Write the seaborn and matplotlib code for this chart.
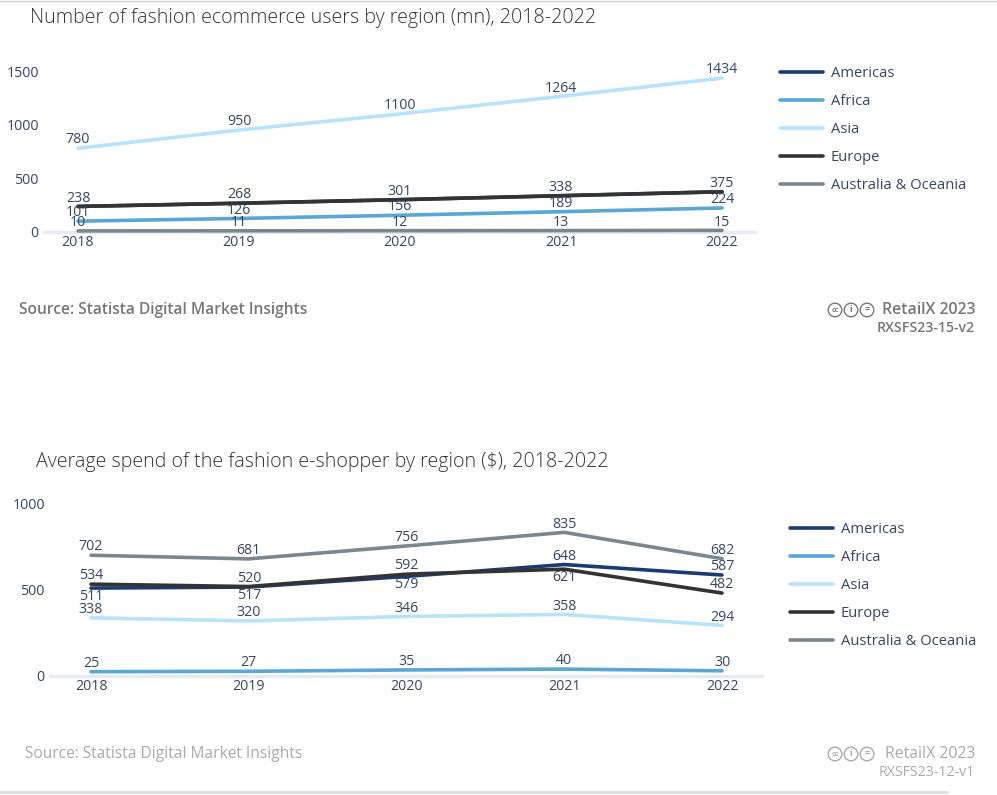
import pandas as pd
import numpy as np
import matplotlib
matplotlib.use("Agg")
import matplotlib.pyplot as plt
from matplotlib.patches import Circle
import seaborn as sns

years = [2018, 2019, 2020, 2021, 2022]
regions = ["Americas", "Africa", "Asia", "Europe", "Australia & Oceania"]

# users (mn)
users_americas = [238, 268, 301, 338, 375]
users_africa = [101, 126, 156, 189, 224]
users_asia = [780, 950, 1100, 1264, 1434]
users_europe = [238, 268, 301, 338, 375]
users_oceania = [10, 11, 12, 13, 15]

# average spend ($)
spend_americas = [511, 517, 579, 648, 587]
spend_africa = [25, 27, 35, 40, 30]
spend_asia = [338, 320, 346, 358, 294]
spend_europe = [534, 520, 592, 621, 482]
spend_oceania = [702, 681, 756, 835, 682]

palette = {"Americas": "#1d3b73", "Africa": "#5aa7d4", "Asia": "#b8e3fa",
           "Europe": "#333333", "Australia & Oceania": "#7b878e"}
TXT = "#36455f"

W, H = 997, 795


def long_df(series):
    rows = []
    for reg, vals in zip(regions, series):
        for y, v in zip(years, vals):
            rows.append({"year": y, "value": v, "region": reg})
    return pd.DataFrame(rows)


def rect(l, r, t, b):
    return [l / W, 1 - b / H, (r - l) / W, (b - t) / H]


sns.set_theme(style="white")
plt.rcParams["font.family"] = ["Open Sans", "DejaVu Sans"]

fig = plt.figure(figsize=(W / 100, H / 100), dpi=100)


def draw(ax, df, yticks, ylim, xmargin, below_pair, leg_xy, title, title_xy):
    sns.lineplot(data=df, x="year", y="value", hue="region", palette=palette,
                 hue_order=regions, lw=2.6, ax=ax, legend=True)
    ax.axhline(0, color="#e6ebf3", lw=2.5, zorder=0)
    ax.set_xlim(years[0] - xmargin, years[-1] + xmargin)
    ax.set_ylim(*ylim)
    ax.set_xticks(years)
    ax.set_yticks(yticks)
    ax.tick_params(axis="both", length=0, labelsize=10.2, colors=TXT)
    ax.tick_params(axis="y", pad=3)
    ax.tick_params(axis="x", pad=0)
    ax.set_xlabel("")
    ax.set_ylabel("")
    for s in ax.spines.values():
        s.set_visible(False)
    # data labels (a value shared by two lines is written once)
    wide = df.pivot(index="year", columns="region", values="value")
    for reg in regions:
        for y in years:
            v = wide.loc[y, reg]
            a, b = wide.loc[y, "Americas"], wide.loc[y, "Europe"]
            if reg == "Americas" and a == b:
                continue
            off = 6
            if below_pair and reg in ("Americas", "Europe") and abs(a - b) < 50 and v == min(a, b):
                off = -6
            ax.annotate(str(v), (y, v), xytext=(0, off), textcoords="offset points",
                        ha="center", va="center", fontsize=10.2, color=TXT)
    h, l = ax.get_legend_handles_labels()
    ax.legend(h, l, loc="upper left", bbox_to_anchor=(leg_xy[0] / W, 1 - leg_xy[1] / H),
              bbox_transform=fig.transFigure, frameon=False, fontsize=10.6,
              labelcolor=TXT, handlelength=2.95, handletextpad=0.5,
              labelspacing=0.89, borderpad=0, borderaxespad=0)
    fig.text(title_xy[0] / W, 1 - title_xy[1] / H, title, fontsize=14.1,
             fontweight="light", color="#333333", va="center", ha="left")


ax1 = fig.add_axes(rect(43, 757, 60.3, 235.2))
draw(ax1, long_df([users_americas, users_africa, users_asia, users_europe, users_oceania]),
     [0, 500, 1000, 1500], (-30, 1600), 35 / 161, False, (780, 66),
     "Number of fashion ecommerce users by region (mn), 2018-2022", (30, 18))

ax2 = fig.add_axes(rect(49, 764, 495.4, 679.4))
draw(ax2, long_df([spend_americas, spend_africa, spend_asia, spend_europe, spend_oceania]),
     [0, 500, 1000], (-20, 1050), 42 / 157.75, True, (790, 522),
     "Average spend of the fashion e-shopper by region ($), 2018-2022", (36, 462))


def footer(src_x, src_y, code, color, weight):
    fig.text(src_x / W, 1 - src_y / H, "Source: Statista Digital Market Insights",
             fontsize=11.2, color=color, fontweight=weight, va="center", ha="left")
    fig.text(975 / W, 1 - src_y / H, "RetailX 2023", fontsize=11.4, color=color,
             fontweight=weight, va="center", ha="right")
    fig.text(975 / W, 1 - (src_y + 18) / H, code, fontsize=10.2, color=color,
             fontweight=weight, va="center", ha="right")
    for cx, sym in zip([835, 851, 867], ["cc", "i", "="]):
        c = Circle((cx / 100, (H - src_y) / 100), 0.068, transform=fig.dpi_scale_trans,
                   fill=False, ec=color, lw=1)
        fig.add_artist(c)
        fig.text(cx / W, 1 - src_y / H, sym, fontsize=5 if sym == "cc" else 6.5,
                 color=color, ha="center", va="center", fontweight="bold")


footer(19, 310, "RXSFS23-15-v2", "#777777", "semibold")
footer(25, 754, "RXSFS23-12-v1", "#aaaaaa", "normal")

fig.add_artist(plt.Line2D([0, 1], [1 - 1 / H, 1 - 1 / H], transform=fig.transFigure,
                          color="#d0d0d0", lw=1))
fig.add_artist(plt.Line2D([0, 0.95], [1 - 792 / H, 1 - 792 / H], transform=fig.transFigure,
                          color="#dddddd", lw=2))

fig.savefig("out.png", dpi=100, facecolor="white")
